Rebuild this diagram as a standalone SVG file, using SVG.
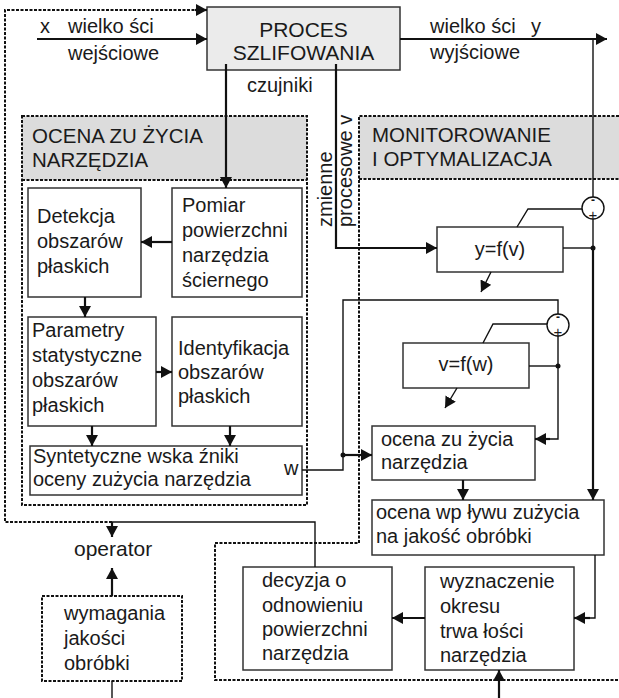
<svg xmlns="http://www.w3.org/2000/svg" width="619" height="698" viewBox="0 0 619 698">
<style>
text{font-family:"Liberation Sans",Arial,sans-serif;font-size:20px;fill:#1a1a1a}
.big{font-size:21px}
.pm{font-size:12px;font-weight:bold}
.pl{font-size:15px}
.box{fill:#fff;stroke:#333;stroke-width:1.5}
.dot{fill:none;stroke:#111;stroke-width:2;stroke-dasharray:3 1.5}
.ln{fill:none;stroke:#111;stroke-width:1.4}
.th{fill:none;stroke:#111;stroke-width:2.2}
.hdr{fill:#dcdcdc}
.jn{fill:#111}
</style>
<defs>
<marker id="a" markerUnits="userSpaceOnUse" markerWidth="12" markerHeight="12" refX="11" refY="6" orient="auto">
<path d="M0,0 L11,6 L0,12 z" fill="#111"/>
</marker>
</defs>

<!-- backgrounds -->
<g id="bg">
<rect class="hdr" x="22" y="116" width="285" height="64"/>
<rect class="hdr" x="359" y="116" width="260" height="63"/>
</g>

<!-- dotted regions -->
<g id="regions">
<rect class="dot" x="22" y="116" width="285" height="389"/>
<line class="dot" x1="22" y1="180" x2="307" y2="180"/>
<path class="dot" d="M619,116 H359 V543 H215 V680 H619"/>
<line class="dot" x1="359" y1="179" x2="619" y2="179"/>
<text x="32" y="143" style="font-size:20.5px">OCENA ZU ŻYCIA</text>
<text x="32" y="167" style="font-size:20.5px">NARZĘDZIA</text>
<text x="372" y="142" style="font-size:20.5px">MONITOROWANIE</text>
<text x="372" y="166" style="font-size:20.5px">I OPTYMALIZACJA</text>
</g>

<g id="proces">
<rect x="207" y="7" width="193" height="63" fill="#ebebeb" stroke="#333" stroke-width="1.5"/>
<text class="big" x="303.5" y="37" text-anchor="middle">PROCES</text>
<text class="big" x="303.5" y="60" text-anchor="middle">SZLIFOWANIA</text>
</g>

<g id="labels">
<text x="40" y="33">x</text>
<text x="68" y="33">wielko ści</text>
<text x="68" y="60">wejściowe</text>
<text x="430" y="33">wielko ści</text>
<text x="531" y="33">y</text>
<text x="430" y="59">wyjściowe</text>
<text x="247" y="92">czujniki</text>
<text transform="translate(332,227) rotate(-90)">zmienne</text>
<text transform="translate(352,227) rotate(-90)">procesowe v</text>
</g>

<g id="pomiar">
<rect class="box" x="172" y="188" width="130" height="109"/>
<text x="182" y="212">Pomiar</text>
<text x="182" y="237">powierzchni</text>
<text x="182" y="262">narzędzia</text>
<text x="182" y="287">ściernego</text>
</g>

<g id="detekcja">
<rect class="box" x="28" y="188" width="113" height="109"/>
<text x="37" y="223">Detekcja</text>
<text x="37" y="248">obszarów</text>
<text x="37" y="273">płaskich</text>
</g>

<g id="parametry">
<rect class="box" x="28" y="317" width="128" height="109"/>
<text x="32" y="337">Parametry</text>
<text x="32" y="362">statystyczne</text>
<text x="32" y="387">obszarów</text>
<text x="32" y="412">płaskich</text>
</g>

<g id="identyfikacja">
<rect class="box" x="172" y="317" width="130" height="109"/>
<text x="178" y="355">Identyfikacja</text>
<text x="178" y="379">obszarów</text>
<text x="178" y="403">płaskich</text>
</g>

<g id="syntetyczne">
<rect class="box" x="30" y="446" width="272" height="49"/>
<text x="33" y="463">Syntetyczne wska  źniki</text>
<text x="33" y="486">oceny zużycia narzędzia</text>
<text x="284" y="475">w</text>
</g>

<g id="yfv">
<rect class="box" x="437" y="227" width="126" height="45"/>
<text x="500" y="256" text-anchor="middle">y=f(v)</text>
</g>

<g id="sum1">
<circle cx="593" cy="208" r="11" fill="#fff" stroke="#111" stroke-width="1.4"/>
<text class="pm" x="593" y="204" text-anchor="middle">-</text>
<text class="pl" x="593" y="220" text-anchor="middle">+</text>
</g>

<g id="vfw">
<rect class="box" x="403" y="343" width="126" height="45"/>
<text x="466" y="371" text-anchor="middle">v=f(w)</text>
</g>

<g id="sum2">
<circle cx="558" cy="325" r="11" fill="#fff" stroke="#111" stroke-width="1.4"/>
<text class="pm" x="558" y="321" text-anchor="middle">-</text>
<text class="pl" x="558" y="337" text-anchor="middle">+</text>
</g>

<g id="ocena-zuzycia">
<rect class="box" x="372" y="426" width="163" height="54"/>
<text x="381" y="446">ocena zu życia</text>
<text x="381" y="469">narzędzia</text>
</g>

<g id="ocena-wplywu">
<rect class="box" x="372" y="500" width="232" height="55"/>
<text x="376" y="519">ocena wp ływu zużycia</text>
<text x="376" y="543">na jakość obróbki</text>
</g>

<g id="wyznaczenie">
<rect class="box" x="425" y="567" width="149" height="103"/>
<text x="440" y="588">wyznaczenie</text>
<text x="440" y="613">okresu</text>
<text x="440" y="638">trwa łości</text>
<text x="440" y="662">narzędzia</text>
</g>

<g id="decyzja">
<rect class="box" x="243" y="567" width="149" height="103"/>
<text x="262" y="587">decyzja o</text>
<text x="262" y="612">odnowieniu</text>
<text x="262" y="636">powierzchni</text>
<text x="262" y="660">narzędzia</text>
</g>

<g id="operator">
<text x="74" y="556" style="font-size:21px">operator</text>
</g>

<g id="wymagania">
<rect class="dot" x="42" y="596" width="140" height="85" fill="#fff"/>
<text x="64" y="620">wymagania</text>
<text x="64" y="645">jakości</text>
<text x="64" y="670">obróbki</text>
</g>

<g id="connectors">
<!-- outer feedback loop -->
<path class="dot" d="M112,522 H5 V10 H200"/>
<line class="th" x1="195" y1="10" x2="207" y2="10" marker-end="url(#a)"/>
<path class="ln" d="M315,567 V522 H112"/>
<line class="th" x1="112" y1="522" x2="112" y2="537" marker-end="url(#a)"/>
<line class="th" x1="112" y1="596" x2="112" y2="568" marker-end="url(#a)"/>
<line class="ln" x1="112" y1="681" x2="112" y2="698"/>
<!-- input/output -->
<line class="th" x1="37" y1="39" x2="207" y2="39" marker-end="url(#a)"/>
<line class="th" x1="400" y1="39" x2="607" y2="39" marker-end="url(#a)"/>
<line class="ln" x1="593" y1="39" x2="593" y2="197"/>
<!-- sensors -->
<line class="th" x1="226" y1="64" x2="226" y2="188" marker-end="url(#a)"/>
<path class="th" d="M336,64 V248 H437" marker-end="url(#a)"/>
<!-- inner ocena -->
<line class="th" x1="172" y1="242" x2="141" y2="242" marker-end="url(#a)"/>
<line class="th" x1="85" y1="297" x2="85" y2="317" marker-end="url(#a)"/>
<line class="th" x1="156" y1="372" x2="172" y2="372" marker-end="url(#a)"/>
<line class="th" x1="92" y1="426" x2="92" y2="446" marker-end="url(#a)"/>
<line class="th" x1="230" y1="426" x2="230" y2="446" marker-end="url(#a)"/>
<!-- w line -->
<path class="ln" d="M302,470 H343 V300 H558 V314"/>
<circle class="jn" cx="343" cy="455" r="2.5"/>
<line class="th" x1="343" y1="455" x2="372" y2="455" marker-end="url(#a)"/>
<!-- y=f(v) loop -->
<path class="ln" d="M517,227 L528,209 H582"/>
<line class="ln" x1="593" y1="219" x2="593" y2="248"/>
<line class="ln" x1="563" y1="248" x2="593" y2="248"/>
<circle class="jn" cx="593" cy="248" r="2.5"/>
<line class="th" x1="593" y1="248" x2="593" y2="500" marker-end="url(#a)"/>
<line class="ln" x1="491" y1="272" x2="481" y2="292" marker-end="url(#a)"/>
<!-- v=f(w) loop -->
<path class="ln" d="M483,343 L493,324 H547"/>
<line class="ln" x1="529" y1="366" x2="558" y2="366"/>
<circle class="jn" cx="558" cy="366" r="2.5"/>
<path class="ln" d="M558,336 V439 H546"/>
<line class="th" x1="550" y1="439" x2="535" y2="439" marker-end="url(#a)"/>
<line class="ln" x1="457" y1="388" x2="445" y2="408" marker-end="url(#a)"/>
<!-- lower -->
<line class="th" x1="463" y1="480" x2="463" y2="500" marker-end="url(#a)"/>
<path class="ln" d="M595,555 V618 H585"/>
<line class="th" x1="590" y1="618" x2="574" y2="618" marker-end="url(#a)"/>
<line class="th" x1="425" y1="618" x2="392" y2="618" marker-end="url(#a)"/>
<line class="th" x1="499" y1="698" x2="499" y2="670" marker-end="url(#a)"/>
</g>
</svg>
